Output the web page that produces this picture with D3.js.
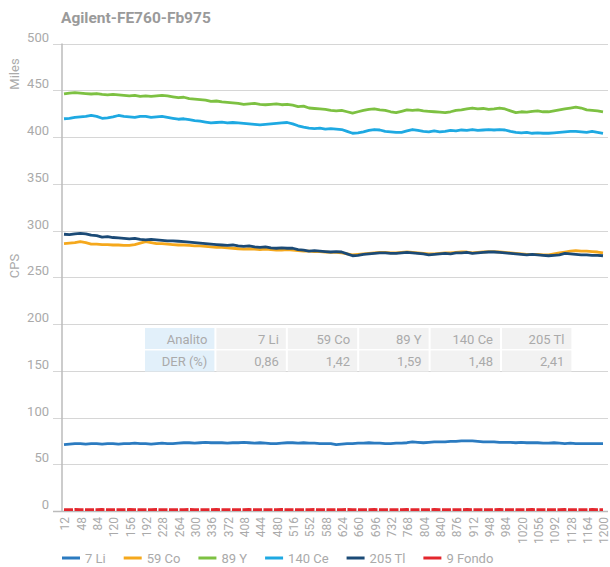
<!DOCTYPE html>
<html>
<head>
<meta charset="utf-8">
<script src="https://cdn.jsdelivr.net/npm/d3@7"></script>
<style>
  body { margin: 0; background: #fff; }
  svg { font-family: Roboto, "Noto Sans", sans-serif; }
</style>
</head>
<body>
<div id="chart"></div>
<script>
// time points (s)
const categories = [12,24,36,48,60,72,84,96,108,120,132,144,156,168,180,192,204,216,228,240,
  252,264,276,288,300,312,324,336,348,360,372,384,396,408,420,432,444,456,468,480,
  492,504,516,528,540,552,564,576,588,600,612,624,636,648,660,672,684,696,708,720,
  732,744,756,768,780,792,804,816,828,840,852,864,876,888,900,912,924,936,948,960,
  972,984,996,1008,1020,1032,1044,1056,1068,1080,1092,1104,1116,1128,1140,1152,1164,1176,1188,1200];

const li7 = [71,71.5,72,72,71.5,72,72,71.5,72,72,
  71.5,72,72,72.5,72,72,71.5,72,72.5,72,
  72,72.5,73,73,72.5,73,73.5,73,73,73,
  72.5,73,73,73.5,73,72.5,73,72.5,72,72,
  72.5,73,73,72.5,73,72.5,72.5,72,72,72,
  71,71.5,72,72,72.5,72.5,73,72.5,72.5,72,
  72,72.5,72.5,73,74,73.5,73,73.5,74,74,
  74,74.5,74.5,75,75,75,74.5,74,74,74,
  73.5,73.5,73.5,73,73.5,73,73,73,72.5,72.5,
  73,72.5,72,72.5,72,72,72,72,72,72];

const co59 = [286,286.5,287,288,287,285.5,285.5,285,285,284.5,
  284.5,284,284,285,286.5,288,287,286,286,285.5,
  285,284.5,284.5,284,283.5,283.5,283,282.5,282,282,
  281.5,281,280.5,280,280.5,280,279.5,280,279.5,279,
  279,279.5,279,278.5,278,278,277.5,277.5,277,276.5,
  276.5,276,275,274,274.5,275,275.5,276,276.5,276.5,
  276,276,276.5,277,276.5,276,275.5,275,275,275.5,
  276,276,276.5,277,277,276,276.5,277,277.5,277.5,
  277,276.5,276,275.5,275,274.5,274.5,274.5,274,274,
  275,276,277,278,278.5,278,278,277.5,277,276];

const y89 = [446,447,447.5,447,446.5,446,446.5,445.5,445,445.5,
  445,444.5,444,444.5,443.5,444,443.5,444,444.5,444,
  443,442,442.5,441,440.5,440,439.5,438,438.5,437.5,
  437,436.5,436,435,435.5,436,435,434.5,435,435.5,
  434.5,435,434,432.5,433,431,430.5,430,429.5,428.5,
  428,428.5,427,425.5,427,428.5,429.5,430,429,428.5,
  427,426,427.5,429,428.5,429,428,427.5,427,426.5,
  426,427,428.5,429,430,431,430,430.5,429.5,430,
  431,430,428,426,427,426.5,427.5,428,427,427,
  428,429,430,431,432,431,429,428.5,428,427];

const ce140 = [419.5,420,421,421.5,422,423,422,420,420.5,421.5,
  423,422,421.5,421,422,422,421,421.5,422,421,
  420,419,419.5,418.5,417.5,417,416,415,415.5,416,
  415,415.5,415,414.5,414,413.5,413,413.5,414,414.5,
  415,415.5,414,412,410.5,409.5,409,409.5,408.5,409,
  408.5,408,406,404,404.5,405.5,407,408,407.5,406,
  405.5,405,405,406.5,408,407,406,405.5,406.5,405.5,
  406,407,406.5,407.5,407,408,407,407.5,408,407.5,
  408,407.5,406,405,404.5,405,404,404.5,404,404,
  404.5,405,405.5,406,406,405.5,405,406,405,404];

const tl205 = [296,295.5,296.5,297,296.5,295,294.5,293,293.5,292.5,
  292,291.5,291,291.5,290.5,290,290.5,290,289.5,289,
  289,288.5,288,287.5,287,286.5,286,285.5,285,284.5,
  284,284.5,283.5,283,283.5,282.5,282,282.5,281.5,281,
  281.5,281,281,279.5,279,278,278.5,278,277.5,277,
  277.5,277,275,273,273.5,274.5,275,275.5,276,276,
  275.5,275.5,276,276.5,276,275.5,275,274,274.5,275,
  275.5,275,276,276,276.5,275.5,276,276.5,277,277,
  276.5,276,275.5,275,274.5,274,274.5,274,273.5,273,
  273.5,274,275.5,275,274.5,274,274,273.5,273.5,273];

const fondo9 = [1.5,1.4,1.6,1.5,1.5,1.4,1.5,1.6,1.5,1.4,
  1.5,1.5,1.6,1.5,1.4,1.5,1.5,1.6,1.5,1.5,
  1.4,1.5,1.5,1.6,1.5,1.4,1.5,1.5,1.6,1.5,
  1.5,1.4,1.5,1.5,1.6,1.5,1.5,1.4,1.5,1.5,
  1.6,1.5,1.5,1.4,1.5,1.5,1.6,1.5,1.5,1.4,
  1.5,1.5,1.6,1.5,1.4,1.5,1.5,1.6,1.5,1.5,
  1.4,1.5,1.5,1.6,1.5,1.4,1.5,1.5,1.6,1.5,
  1.5,1.4,1.5,1.5,1.6,1.5,1.5,1.4,1.5,1.5,
  1.6,1.5,1.5,1.4,1.5,1.5,1.6,1.5,1.5,1.4,
  1.5,1.5,1.6,1.5,1.4,1.5,1.5,1.6,1.5,1.5];

const seriesNames = ["7 Li", "59 Co", "89 Y", "140 Ce", "205 Tl", "9 Fondo"];
const seriesValues = [li7, co59, y89, ce140, tl205, fondo9];
const colors = ["#2b7bc0", "#f5a81c", "#7dc142", "#1ea9e2", "#1b4a76", "#e3262d"];

const yTicks = [0, 50, 100, 150, 200, 250, 300, 350, 400, 450, 500];

const tableHead = ["Analito", "7 Li", "59 Co", "89 Y", "140 Ce", "205 Tl"];
const tableDer = ["DER (%)", "0,86", "1,42", "1,59", "1,48", "2,41"];

const width = 610, height = 567;
const plotLeft = 62, plotRight = 608, plotTop = 43.5, plotBottom = 511;

const svg = d3.select("#chart")
  .append("svg")
  .attr("width", width)
  .attr("height", height);

const x = d3.scalePoint()
  .domain(categories)
  .range([64, 603]);

const y = d3.scaleLinear()
  .domain([0, 500])
  .range([plotBottom, plotTop]);

// title
svg.append("text")
  .attr("x", 61)
  .attr("y", 23)
  .attr("font-size", 15.5)
  .attr("font-weight", "bold")
  .attr("fill", "#9a9a9a")
  .text("Agilent-FE760-Fb975");

// gridlines
svg.append("g")
  .selectAll("line")
  .data(yTicks)
  .join("line")
  .attr("x1", 53)
  .attr("x2", plotRight)
  .attr("y1", d => Math.round(y(d)) + 0.5)
  .attr("y2", d => Math.round(y(d)) + 0.5)
  .attr("stroke", d => d === 0 ? "#bbb" : "#d6d6d6")
  .attr("stroke-width", d => d === 0 ? 1.5 : 1);

// y tick labels
svg.append("g")
  .selectAll("text")
  .data(yTicks)
  .join("text")
  .attr("x", 49)
  .attr("y", d => y(d) - 2)
  .attr("text-anchor", "end")
  .attr("font-size", 13)
  .attr("fill", "#aaa")
  .text(d => d);

// y axis line
svg.append("line")
  .attr("x1", plotLeft)
  .attr("x2", plotLeft)
  .attr("y1", plotTop)
  .attr("y2", plotBottom + 1)
  .attr("stroke", "#bbb")
  .attr("stroke-width", 1.5);

// axis titles
svg.append("text")
  .attr("transform", "translate(19,74) rotate(-90)")
  .attr("text-anchor", "middle")
  .attr("font-size", 13)
  .attr("fill", "#aaa")
  .text("Miles");

svg.append("text")
  .attr("transform", "translate(19,266) rotate(-90)")
  .attr("text-anchor", "middle")
  .attr("font-size", 13)
  .attr("fill", "#aaa")
  .text("CPS");

// x tick labels, every third category
svg.append("g")
  .selectAll("text")
  .data(categories.filter((d, i) => i % 3 === 0))
  .join("text")
  .attr("transform", d => `translate(${x(d) + 1},517) rotate(-90)`)
  .attr("text-anchor", "end")
  .attr("dy", "0.35em")
  .attr("font-size", 12)
  .attr("fill", "#aaa")
  .text(d => d);

// table
const colW = 71.4, rowH = 22.5, tableX = 145, tableY = 328;
const tableRows = [tableHead, tableDer];
const table = svg.append("g");
tableRows.forEach((row, r) => {
  const g = table.append("g");
  g.selectAll("rect")
    .data(row)
    .join("rect")
    .attr("x", (d, i) => tableX + i * colW)
    .attr("y", tableY + r * rowH)
    .attr("width", colW - 2)
    .attr("height", rowH - 1.5)
    .attr("fill", (d, i) => i === 0 ? "#e2f0fa" : "#f2f2f2");
  g.selectAll("text")
    .data(row)
    .join("text")
    .attr("x", (d, i) => tableX + (i + 1) * colW - 9)
    .attr("y", tableY + r * rowH + 15.5)
    .attr("text-anchor", "end")
    .attr("font-size", 13)
    .attr("fill", "#aaa")
    .text(d => d);
});

// lines
const line = d3.line()
  .x((d, i) => x(categories[i]))
  .y(d => y(d));

svg.append("g")
  .selectAll("path")
  .data(seriesValues)
  .join("path")
  .attr("d", d => line(d))
  .attr("fill", "none")
  .attr("stroke", (d, i) => colors[i])
  .attr("stroke-width", 2.8)
  .attr("stroke-linejoin", "round")
  .attr("stroke-dasharray", (d, i) => seriesNames[i] === "9 Fondo" ? "9,1.5" : null);

// legend
const legend = svg.append("g");
let lx = 62;
seriesNames.forEach((name, i) => {
  legend.append("line")
    .attr("x1", lx)
    .attr("x2", lx + 18)
    .attr("y1", 558)
    .attr("y2", 558)
    .attr("stroke", colors[i])
    .attr("stroke-width", 3);
  const t = legend.append("text")
    .attr("x", lx + 23)
    .attr("y", 562.5)
    .attr("font-size", 13)
    .attr("fill", "#aaa")
    .text(name);
  lx += 23 + t.node().getComputedTextLength() + 18;
});
</script>
</body>
</html>
